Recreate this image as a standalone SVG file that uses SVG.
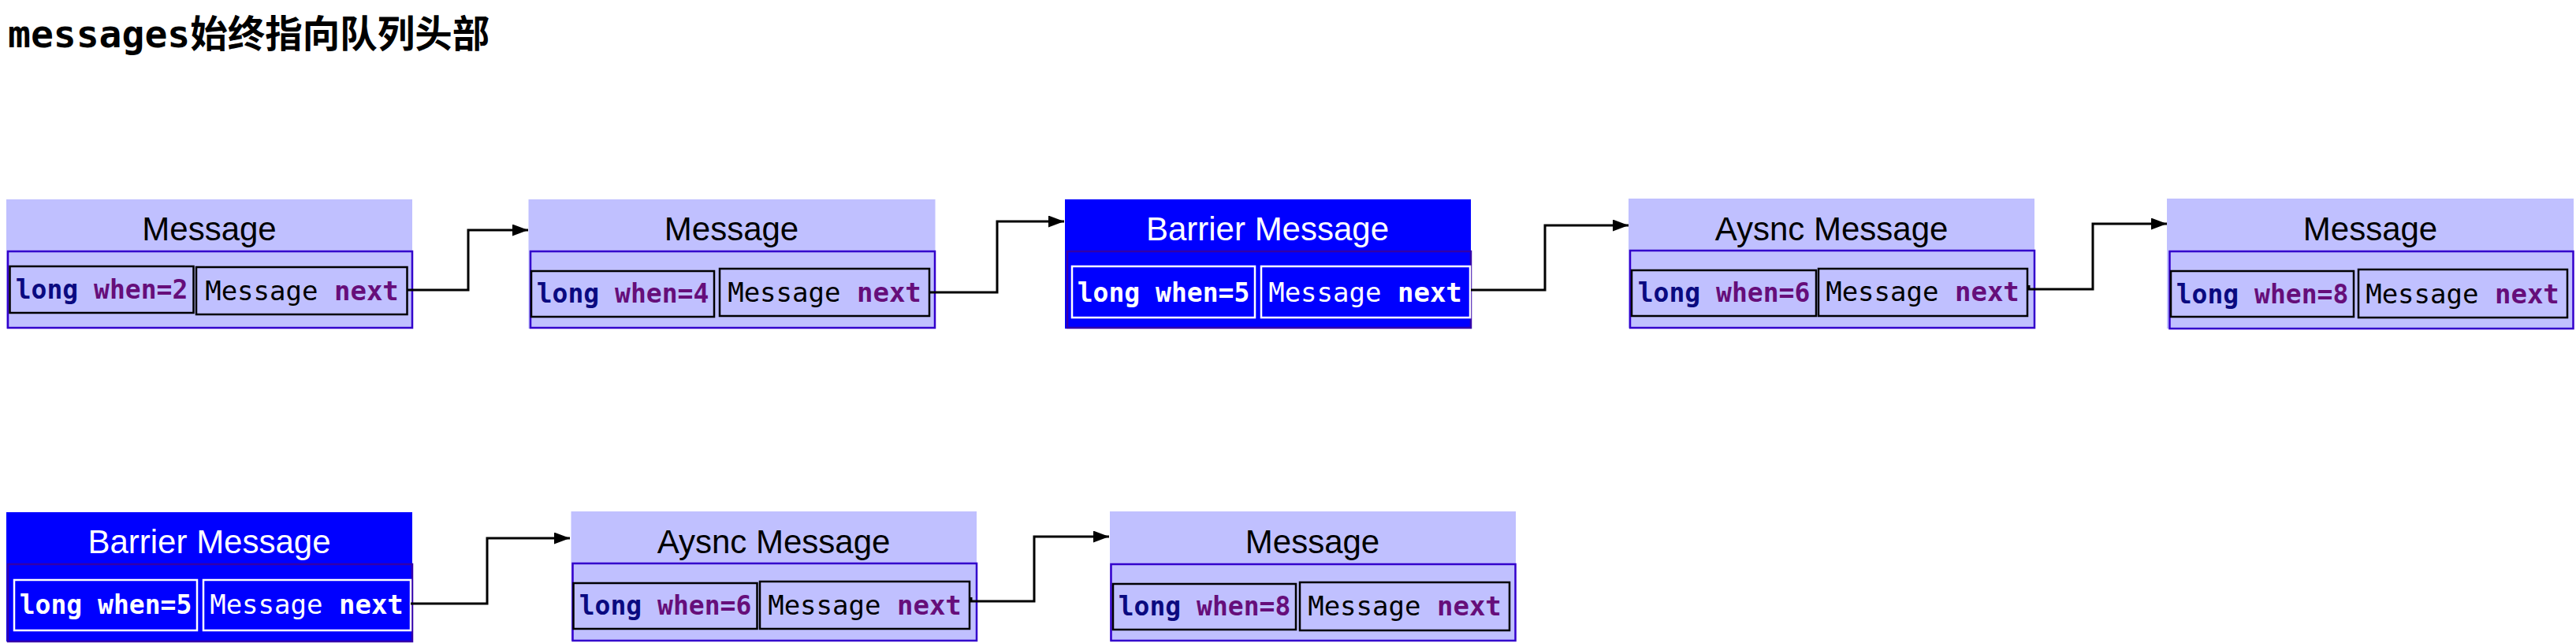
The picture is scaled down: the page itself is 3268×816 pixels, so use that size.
<svg xmlns="http://www.w3.org/2000/svg" width="3268" height="816" viewBox="0 0 3268 816">
<defs>
<style>
.bg{fill:#ffffff}
.lav{fill:#C0C0FF}
.blu{fill:#0000FF}
.inL{fill:#C0C0FF;stroke:#3300CC;stroke-width:2.5}
.inB{fill:#0000FF;stroke:#3300AA;stroke-width:2.5}
.cL{fill:none;stroke:#000000;stroke-width:2.5}
.cB{fill:none;stroke:#ffffff;stroke-width:2.5}
.ttl{font-family:"Liberation Sans",Arial,sans-serif;font-size:42px;text-anchor:middle}
.tL{fill:#000000}
.tB{fill:#ffffff}
.code{font-family:"DejaVu Sans Mono","Liberation Mono",monospace;text-anchor:middle}
.k{font-weight:bold;font-size:33px}
.m{font-size:34px}
.nv{fill:#0A0A80}
.pu{fill:#660E7A}
.bk{fill:#000000}
.wh{fill:#ffffff}
.b{font-weight:bold}
.conn path{fill:none;stroke:#000000;stroke-width:3;marker-end:url(#arr)}
</style>
<marker id="arr" markerUnits="userSpaceOnUse" markerWidth="21" markerHeight="16" refX="20" refY="7.5" orient="auto">
<path d="M0,0 L20,7.5 L0,15 z" fill="#000000"/>
</marker>
</defs>
<rect class="bg" x="0" y="0" width="3268" height="816"/>
<text x="10" y="60" font-family="'DejaVu Sans Mono','Noto Sans CJK SC',monospace" font-weight="bold" font-size="48">messages<tspan font-family="'Noto Sans CJK SC',sans-serif" font-size="48" textLength="380" lengthAdjust="spacingAndGlyphs">始终指向队列头部</tspan></text>

<g id="n1">
<rect class="lav" x="8" y="253" width="515" height="164"/>
<rect class="inL" x="10" y="319" width="513" height="97"/>
<rect class="cL" x="12.5" y="338" width="233" height="59"/>
<rect class="cL" x="249" y="339" width="267.5" height="60"/>
<text class="ttl tL" x="265.5" y="305">Message</text>
<text class="code k" x="129" y="379"><tspan class="nv">long</tspan> <tspan class="pu">when=2</tspan></text>
<text class="code m" x="383" y="381"><tspan class="bk">Message</tspan> <tspan class="pu b">next</tspan></text>
</g>

<g id="n2">
<rect class="lav" x="670.5" y="253" width="516" height="164"/>
<rect class="inL" x="673" y="319" width="513" height="97"/>
<rect class="cL" x="674" y="344" width="232" height="58"/>
<rect class="cL" x="913" y="341" width="266" height="60"/>
<text class="ttl tL" x="928" y="305">Message</text>
<text class="code k" x="790" y="384"><tspan class="nv">long</tspan> <tspan class="pu">when=4</tspan></text>
<text class="code m" x="1046" y="383"><tspan class="bk">Message</tspan> <tspan class="pu b">next</tspan></text>
</g>

<g id="n3">
<rect class="blu" x="1351" y="253" width="515" height="164"/>
<rect class="inB" x="1354" y="319" width="512" height="97"/>
<rect class="cB" x="1360" y="338" width="232" height="65"/>
<rect class="cB" x="1600" y="338" width="265" height="65"/>
<text class="ttl tB" x="1608" y="305">Barrier Message</text>
<text class="code k wh" x="1476" y="383">long when=5</text>
<text class="code m wh" x="1732" y="383">Message <tspan class="b">next</tspan></text>
</g>

<g id="n4">
<rect class="lav" x="2066" y="252" width="515" height="164"/>
<rect class="inL" x="2068" y="318" width="513" height="98"/>
<rect class="cL" x="2070" y="343" width="234" height="58"/>
<rect class="cL" x="2307" y="341" width="265" height="60"/>
<text class="ttl tL" x="2323.5" y="305">Aysnc Message</text>
<text class="code k" x="2187" y="383"><tspan class="nv">long</tspan> <tspan class="pu">when=6</tspan></text>
<text class="code m" x="2439" y="382"><tspan class="bk">Message</tspan> <tspan class="pu b">next</tspan></text>
</g>

<g id="n5">
<rect class="lav" x="2749" y="252" width="516" height="165"/>
<rect class="inL" x="2752.5" y="319" width="512" height="98"/>
<rect class="cL" x="2754" y="344" width="232" height="58"/>
<rect class="cL" x="2992" y="342" width="265" height="61"/>
<text class="ttl tL" x="3007" y="305">Message</text>
<text class="code k" x="2870" y="385"><tspan class="nv">long</tspan> <tspan class="pu">when=8</tspan></text>
<text class="code m" x="3124" y="385"><tspan class="bk">Message</tspan> <tspan class="pu b">next</tspan></text>
</g>

<g id="n6">
<rect class="blu" x="8" y="650" width="515" height="164"/>
<rect class="inB" x="10" y="716" width="513" height="98"/>
<rect class="cB" x="18" y="736" width="232" height="64"/>
<rect class="cB" x="258" y="736" width="263" height="64"/>
<text class="ttl tB" x="265.5" y="702">Barrier Message</text>
<text class="code k wh" x="134" y="779">long when=5</text>
<text class="code m wh" x="389" y="779">Message <tspan class="b">next</tspan></text>
</g>

<g id="n7">
<rect class="lav" x="724.5" y="649" width="514.5" height="164"/>
<rect class="inL" x="726.5" y="715" width="512.5" height="98"/>
<rect class="cL" x="727.5" y="740" width="233" height="58"/>
<rect class="cL" x="964" y="738" width="266" height="60"/>
<text class="ttl tL" x="981.5" y="702">Aysnc Message</text>
<text class="code k" x="844" y="780"><tspan class="nv">long</tspan> <tspan class="pu">when=6</tspan></text>
<text class="code m" x="1097" y="780"><tspan class="bk">Message</tspan> <tspan class="pu b">next</tspan></text>
</g>

<g id="n8">
<rect class="lav" x="1408" y="649" width="515" height="164"/>
<rect class="inL" x="1409.5" y="716" width="513" height="97"/>
<rect class="cL" x="1412" y="741" width="232" height="58"/>
<rect class="cL" x="1649" y="739" width="266" height="61"/>
<text class="ttl tL" x="1665" y="702">Message</text>
<text class="code k" x="1528" y="781"><tspan class="nv">long</tspan> <tspan class="pu">when=8</tspan></text>
<text class="code m" x="1782" y="781"><tspan class="bk">Message</tspan> <tspan class="pu b">next</tspan></text>
</g>

<g id="connectors" class="conn">
<path d="M516.5,368 H594 V292 H670"/>
<path d="M1179,371 H1265 V281 H1350"/>
<path d="M1866,368 H1960 V286 H2066"/>
<path d="M2574,362 V367 H2655 V284 H2749"/>
<path d="M521,766 H618 V683 H723"/>
<path d="M1232,758 V763 H1312 V681 H1407"/>
</g>
</svg>
